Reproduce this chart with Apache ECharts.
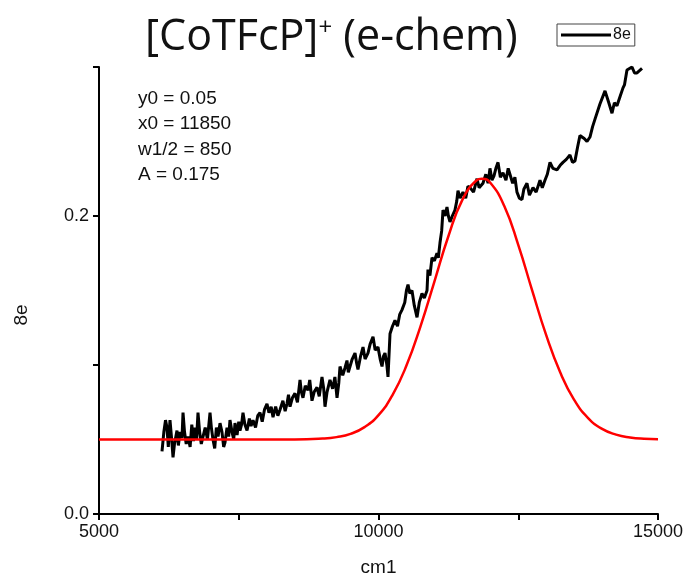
<!DOCTYPE html>
<html>
<head>
<meta charset="utf-8">
<script src="https://cdn.jsdelivr.net/npm/echarts@6/dist/echarts.min.js"></script>
<style>
  html, body { margin: 0; padding: 0; background: #fff; }
  #chart { width: 687px; height: 583px; }
</style>
</head>
<body>
<div id="chart"></div>
<script>
var traceX = [6127, 6160, 6190, 6216, 6240, 6270, 6300, 6324, 6350, 6395,
    6420, 6450, 6485, 6503, 6530, 6560, 6592, 6630, 6660, 6690,
    6717, 6745, 6771, 6800, 6830, 6860, 6900, 6940, 6986, 7010,
    7039, 7070, 7100, 7130, 7165, 7200, 7230, 7254, 7290, 7320,
    7343, 7380, 7410, 7433, 7470, 7500, 7522, 7550, 7576, 7610,
    7648, 7690, 7720, 7755, 7800, 7840, 7880, 7920, 7960, 8005,
    8040, 8080, 8113, 8160, 8200, 8238, 8290, 8330, 8363, 8390,
    8417, 8460, 8506, 8550, 8596, 8620, 8649, 8690, 8739, 8770,
    8810, 8850, 8900, 8940, 8989, 9020, 9043, 9080, 9132, 9180,
    9220, 9258, 9290, 9311, 9360, 9400, 9436, 9460, 9490, 9530,
    9580, 9610, 9633, 9680, 9723, 9760, 9812, 9850, 9902, 9940,
    9991, 10030, 10063, 10090, 10116, 10150, 10170, 10206, 10250, 10295,
    10340, 10380, 10420, 10470, 10500, 10528, 10560, 10599, 10640, 10689,
    10730, 10778, 10820, 10868, 10885, 10920, 10957, 11000, 11046, 11070,
    11100, 11130, 11154, 11190, 11225, 11250, 11279, 11320, 11368, 11400,
    11422, 11460, 11511, 11560, 11600, 11637, 11700, 11762, 11800, 11869,
    11920, 11960, 11994, 12030, 12066, 12100, 12138, 12180, 12227, 12280,
    12320, 12352, 12400, 12440, 12477, 12520, 12567, 12600, 12656, 12700,
    12764, 12820, 12889, 12930, 12978, 13020, 13068, 13120, 13193, 13250,
    13300, 13360, 13425, 13470, 13515, 13560, 13604, 13680, 13730, 13783,
    13830, 13873, 13960, 14052, 14120, 14177, 14220, 14266, 14320, 14374,
    14400, 14445, 14535, 14580, 14624, 14714];
var traceY = [0.042, 0.055, 0.063, 0.058, 0.045, 0.063, 0.050, 0.038, 0.047, 0.056,
    0.046, 0.055, 0.051, 0.068, 0.055, 0.047, 0.052, 0.045, 0.060, 0.049,
    0.058, 0.050, 0.068, 0.055, 0.047, 0.048, 0.058, 0.050, 0.068, 0.058,
    0.050, 0.044, 0.058, 0.052, 0.061, 0.055, 0.045, 0.048, 0.058, 0.052,
    0.063, 0.055, 0.050, 0.061, 0.053, 0.062, 0.056, 0.060, 0.068, 0.060,
    0.056, 0.064, 0.059, 0.063, 0.058, 0.066, 0.068, 0.062, 0.070, 0.074,
    0.068, 0.072, 0.065, 0.072, 0.066, 0.070, 0.076, 0.069, 0.074, 0.080,
    0.072, 0.078, 0.081, 0.075, 0.090, 0.082, 0.078, 0.086, 0.083, 0.090,
    0.076, 0.082, 0.085, 0.079, 0.092, 0.084, 0.072, 0.082, 0.090, 0.084,
    0.092, 0.078, 0.088, 0.099, 0.093, 0.098, 0.103, 0.095, 0.099, 0.104,
    0.108, 0.101, 0.097, 0.106, 0.112, 0.104, 0.108, 0.114, 0.119, 0.110,
    0.112, 0.104, 0.099, 0.106, 0.108, 0.100, 0.092, 0.121, 0.126, 0.130,
    0.126, 0.134, 0.137, 0.142, 0.150, 0.154, 0.148, 0.150, 0.140, 0.132,
    0.142, 0.148, 0.145, 0.150, 0.164, 0.160, 0.172, 0.170, 0.175, 0.172,
    0.182, 0.190, 0.204, 0.200, 0.206, 0.200, 0.196, 0.200, 0.204, 0.210,
    0.217, 0.212, 0.216, 0.212, 0.220, 0.219, 0.216, 0.225, 0.219, 0.222,
    0.228, 0.222, 0.232, 0.224, 0.227, 0.232, 0.236, 0.226, 0.229, 0.224,
    0.232, 0.231, 0.222, 0.226, 0.216, 0.212, 0.211, 0.218, 0.222, 0.214,
    0.219, 0.216, 0.224, 0.219, 0.224, 0.228, 0.236, 0.232, 0.231, 0.234,
    0.236, 0.238, 0.241, 0.236, 0.237, 0.246, 0.254, 0.252, 0.250, 0.253,
    0.260, 0.265, 0.275, 0.284, 0.276, 0.269, 0.276, 0.274, 0.280, 0.286,
    0.288, 0.298, 0.300, 0.296, 0.296, 0.299];

// gaussian fit curve
var fitX = [5000, 6000, 7000, 8000, 8500, 9000, 9250, 9500, 9750, 10000,
    10250, 10500, 10750, 11000, 11250, 11500, 11750, 11850, 12000, 12250,
    12500, 12750, 13000, 13250, 13500, 13750, 14000, 14250, 14500, 14750, 15000];
var fitY = [0.050, 0.050, 0.050, 0.050, 0.050, 0.0506, 0.0516, 0.0538, 0.0583, 0.0664,
    0.0798, 0.0996, 0.1258, 0.156, 0.1864, 0.2108, 0.2238, 0.225, 0.2223, 0.2067,
    0.1806, 0.1499, 0.120, 0.0951, 0.0766, 0.0644, 0.0571, 0.0533, 0.0514, 0.0505, 0.0502];

var xLabels = [5000, 10000, 15000];
var yLabels = [0, 0.2];
var fitText = ['y0 = 0.05', 'x0 = 11850', 'w1/2 = 850', 'A = 0.175'];

function pairs(xs, ys) {
    var out = [];
    for (var i = 0; i < xs.length; i++) out.push([xs[i], ys[i]]);
    return out;
}

var chart = echarts.init(document.getElementById('chart'));

chart.setOption({
    animation: false,
    backgroundColor: '#fff',
    title: {
        text: '[CoTFcP]{sup|+} (e-chem)',
        left: 140,
        top: 11,
        textStyle: {
            fontFamily: 'Open Sans',
            fontSize: 43,
            fontWeight: 'normal',
            color: '#111',
            rich: {
                sup: { fontFamily: 'Open Sans', fontSize: 24, color: '#111', verticalAlign: 'top', padding: [0, 0, 20, 0] }
            }
        }
    },
    legend: {
        data: ['8e'],
        left: 557,
        top: 24,
        padding: [3, 4, 3, 4],
        borderColor: '#444',
        borderWidth: 1,
        itemWidth: 50,
        itemHeight: 3,
        itemGap: 4,
        icon: 'rect',
        textStyle: { fontFamily: 'Liberation Sans', fontSize: 16, color: '#111', padding: [0, 0, 0, -3] }
    },
    graphic: [{
        type: 'text',
        left: 138,
        top: 86,
        style: {
            text: fitText.join('\n'),
            font: '19px "Liberation Sans"',
            lineHeight: 25.5,
            fill: '#111'
        }
    }, {
        type: 'text',
        x: 22,
        y: 315,
        rotation: Math.PI / 2,
        style: {
            text: '8e',
            font: '19px "Liberation Sans"',
            fill: '#111',
            align: 'center',
            verticalAlign: 'middle'
        }
    }],
    grid: { left: 99, right: 29, top: 67, bottom: 69 },
    xAxis: {
        type: 'value',
        min: 5000,
        max: 15000,
        interval: 2500,
        name: 'cm1',
        nameLocation: 'middle',
        nameGap: 44,
        nameTextStyle: { fontFamily: 'Liberation Sans', fontSize: 19, color: '#111' },
        axisLine: { lineStyle: { color: '#000', width: 2 } },
        axisTick: { inside: false, length: 6, lineStyle: { color: '#000', width: 2 } },
        axisLabel: {
            fontFamily: 'Liberation Sans', fontSize: 18, color: '#111', margin: 9,
            formatter: function (v) { return xLabels.indexOf(v) >= 0 ? String(v) : ''; }
        },
        splitLine: { show: false }
    },
    yAxis: {
        type: 'value',
        min: 0,
        max: 0.3,
        interval: 0.1,
        axisLine: { show: true, lineStyle: { color: '#000', width: 2 } },
        axisTick: { show: true, length: 6, lineStyle: { color: '#000', width: 2 } },
        axisLabel: {
            fontFamily: 'Liberation Sans', fontSize: 18, color: '#111', margin: 10,
            formatter: function (v) {
                for (var i = 0; i < yLabels.length; i++) {
                    if (Math.abs(v - yLabels[i]) < 1e-9) return v.toFixed(1);
                }
                return '';
            }
        },
        splitLine: { show: false }
    },
    series: [{
        name: '8e',
        type: 'line',
        data: pairs(traceX, traceY),
        showSymbol: false,
        lineStyle: { color: '#000', width: 3 },
        itemStyle: { color: '#000' },
        z: 2
    }, {
        name: 'fit',
        type: 'line',
        data: pairs(fitX, fitY),
        smooth: true,
        showSymbol: false,
        lineStyle: { color: '#ff0000', width: 2.5 },
        itemStyle: { color: '#ff0000' },
        z: 3
    }]
});
</script>
</body>
</html>
